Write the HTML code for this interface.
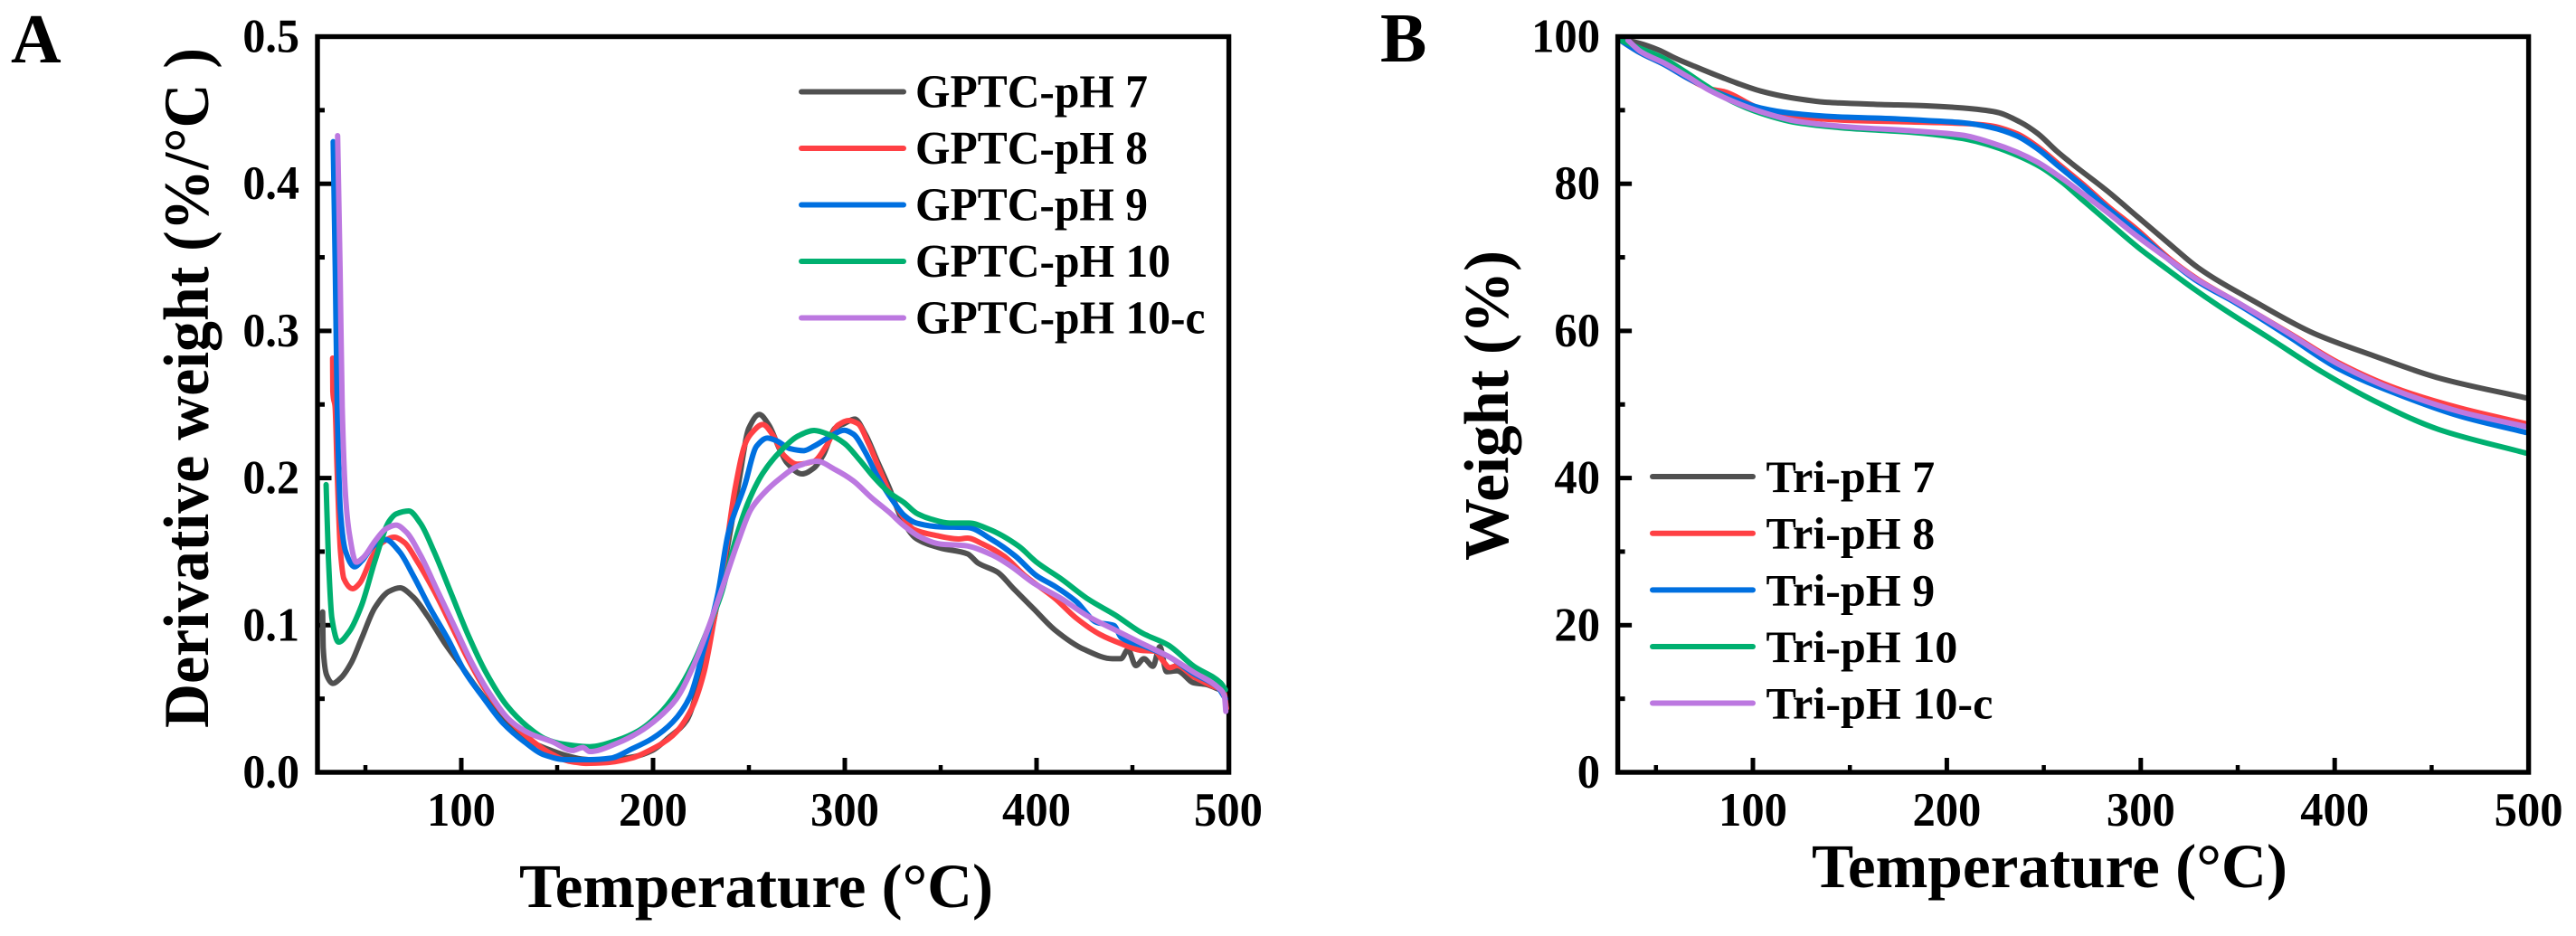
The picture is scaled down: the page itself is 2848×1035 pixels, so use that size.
<!DOCTYPE html>
<html lang="en">
<head>
<meta charset="utf-8">
<title>GPTC and Tri TGA charts</title>
<style>
html,body{margin:0;padding:0;background:#fff;width:2848px;height:1035px;overflow:hidden}
svg{display:block}
text{font-family:"Liberation Serif","DejaVu Serif",serif;font-weight:bold;fill:#000}
</style>
</head>
<body>
<svg id="figure" xmlns="http://www.w3.org/2000/svg" width="2848" height="1035" viewBox="0 0 2848 1035">
  <rect x="0" y="0" width="2848" height="1035" fill="#fff"/>

  <text x="12" y="69" font-size="77">A</text>
  <text x="1526" y="68" font-size="77">B</text>

  <g id="panelA">
    <g id="aFrame"></g>
    <g id="aLines" fill="none" stroke-width="6" stroke-linejoin="round" stroke-linecap="round"></g>
  </g>
  <g id="panelB">
    <g id="bLines" fill="none" stroke-width="6" stroke-linejoin="round" stroke-linecap="round"></g>
    <g id="bFrame"></g>
  </g>

  <text transform="translate(230,805) rotate(-90)" font-size="71" textLength="752" lengthAdjust="spacingAndGlyphs">Derivative weight (%/°C )</text>
  <text x="574" y="1003" font-size="69" textLength="524" lengthAdjust="spacingAndGlyphs">Temperature (°C)</text>
  <text transform="translate(1667,620) rotate(-90)" font-size="70" textLength="343" lengthAdjust="spacingAndGlyphs">Weight (%)</text>
  <text x="2003" y="981" font-size="69" textLength="526" lengthAdjust="spacingAndGlyphs">Temperature (°C)</text>

  <g font-size="52" stroke-width="6" stroke-linecap="round">
    <line x1="886" x2="999" y1="101.5" y2="101.5" stroke="#505050"/>
    <text x="1012" y="118.5" textLength="257" lengthAdjust="spacingAndGlyphs">GPTC-pH 7</text>
    <line x1="886" x2="999" y1="164" y2="164" stroke="#FF4044"/>
    <text x="1012" y="181" textLength="257" lengthAdjust="spacingAndGlyphs">GPTC-pH 8</text>
    <line x1="886" x2="999" y1="226.5" y2="226.5" stroke="#0070E0"/>
    <text x="1012" y="243.5" textLength="257" lengthAdjust="spacingAndGlyphs">GPTC-pH 9</text>
    <line x1="886" x2="999" y1="289" y2="289" stroke="#00B070"/>
    <text x="1012" y="306" textLength="282" lengthAdjust="spacingAndGlyphs">GPTC-pH 10</text>
    <line x1="886" x2="999" y1="351.5" y2="351.5" stroke="#BC78E0"/>
    <text x="1012" y="368.5" textLength="320.5" lengthAdjust="spacingAndGlyphs">GPTC-pH 10-c</text>
  </g>

  <g font-size="50" stroke-width="6" stroke-linecap="round">
    <line x1="1827" x2="1938" y1="527" y2="527" stroke="#505050"/>
    <text x="1952.5" y="544" textLength="186.7" lengthAdjust="spacingAndGlyphs">Tri-pH 7</text>
    <line x1="1827" x2="1938" y1="589.7" y2="589.7" stroke="#FF4044"/>
    <text x="1952.5" y="606.7" textLength="186.7" lengthAdjust="spacingAndGlyphs">Tri-pH 8</text>
    <line x1="1827" x2="1938" y1="652.4" y2="652.4" stroke="#0070E0"/>
    <text x="1952.5" y="669.4" textLength="186.7" lengthAdjust="spacingAndGlyphs">Tri-pH 9</text>
    <line x1="1827" x2="1938" y1="715" y2="715" stroke="#00B070"/>
    <text x="1952.5" y="732" textLength="211.8" lengthAdjust="spacingAndGlyphs">Tri-pH 10</text>
    <line x1="1827" x2="1938" y1="777.5" y2="777.5" stroke="#BC78E0"/>
    <text x="1952.5" y="794.5" textLength="250.8" lengthAdjust="spacingAndGlyphs">Tri-pH 10-c</text>
  </g>
</svg>

<script>
// ---------- tick data ----------
const aXMajor = [100, 200, 300, 400, 500];
const aXMinor = [50, 150, 250, 350, 450];
const aYMajor = [0, 0.1, 0.2, 0.3, 0.4, 0.5];
const aYMinor = [0.05, 0.15, 0.25, 0.35, 0.45];
const aYLabels = ['0.0', '0.1', '0.2', '0.3', '0.4', '0.5'];
const bXMajor = [100, 200, 300, 400, 500];
const bXMinor = [50, 150, 250, 350, 450];
const bYMajor = [0, 20, 40, 60, 80, 100];
const bYMinor = [10, 30, 50, 70, 90];
const bYLabels = ['0', '20', '40', '60', '80', '100'];

// ---------- panel A: derivative weight ----------
const aPh7T = [27.7,28,29.8,33,37,42.5,47.9,55,62.3,68,75,82,91,100,109,118,127,136,145,154,163,172,181.5,190.5,199.5,208.5,217.5,224.8,230,235.6,239.5,244.7,250,255.4,260.4,266,269.8,277.7,284,288.7,295,299.7,305.2,310.7,317,323.3,329.6,337.3,350,364,369.5,379.7,387.6,398.6,409.6,425,439.5,444,447.7,451.8,456,460.7,464.3,467.8,473.3,482,488,494.5,497.7,499];
const aPh7V = [0.109,0.0844,0.066,0.0604,0.0639,0.0742,0.0906,0.112,0.123,0.1254,0.119,0.107,0.0885,0.0721,0.0557,0.0414,0.0291,0.0209,0.0158,0.0117,0.009,0.0082,0.009,0.0107,0.0148,0.024,0.0352,0.064,0.0926,0.1295,0.158,0.197,0.234,0.2432,0.236,0.2196,0.2104,0.2028,0.2069,0.2155,0.234,0.237,0.2401,0.2299,0.2114,0.193,0.1725,0.1588,0.1524,0.1485,0.1422,0.136,0.1254,0.111,0.0967,0.0834,0.0772,0.0772,0.0834,0.0725,0.0772,0.0721,0.0854,0.0684,0.069,0.0608,0.0598,0.0567,0.0547,0.0434];

const aPh8T = [32.9,33,34.2,35.2,37,38.8,43.4,47,53.3,58.7,65,70.4,76.8,85.8,94.8,103.8,112.8,123.7,134.5,145.4,156,165,176,188.7,199.5,210.3,220.2,226.6,232,237.4,242.8,248.2,251,257.2,262.7,268.2,275.3,284,290.3,296.5,302,306.8,312.3,318.6,324.9,331,335.7,346.7,359.3,364,372,383,394,409.6,420.6,433.2,444,455,461.5,466.2,469.4,473.3,482,491.4,497.7,499];
const aPh8V = [0.2815,0.259,0.2483,0.207,0.15,0.1315,0.1248,0.1285,0.1459,0.1561,0.1598,0.1561,0.1438,0.1233,0.0998,0.0762,0.0557,0.0373,0.024,0.0137,0.0076,0.0061,0.0066,0.0096,0.0158,0.025,0.0434,0.068,0.1049,0.1459,0.193,0.2237,0.2299,0.2364,0.2288,0.2155,0.2094,0.2114,0.2217,0.236,0.2391,0.237,0.2237,0.2043,0.1858,0.1725,0.1653,0.1612,0.1586,0.1592,0.1551,0.1469,0.1336,0.1182,0.1049,0.0936,0.0875,0.0828,0.0824,0.0752,0.0711,0.0725,0.0649,0.0588,0.0547,0.0434];

const aPh9T = [33.2,34.3,35.3,37,39.7,44.3,48.2,54.2,60.5,67.7,75,84,93,102,111,121.9,132.7,143.5,154.4,167,177.8,188.7,199.5,210.3,219.3,226.6,233.8,239.2,247.8,254,259.6,264.3,271.4,278.5,284,291.8,299.7,304.4,310.7,317,324.9,331,337.3,350,364,376.6,389,400,409.6,420.6,431.6,440.3,444.2,456.8,469.4,482,494.5,498.5];
const aPh9V = [0.4286,0.3405,0.2483,0.1766,0.15,0.1397,0.1438,0.154,0.1582,0.15,0.1336,0.111,0.0906,0.068,0.0516,0.0332,0.0209,0.0117,0.0086,0.0086,0.0096,0.0158,0.0229,0.0342,0.0516,0.0844,0.1213,0.1623,0.195,0.2217,0.2272,0.2254,0.22,0.2186,0.2217,0.2278,0.2325,0.2299,0.2176,0.2012,0.1848,0.1746,0.1694,0.1668,0.1664,0.1582,0.1469,0.1336,0.1264,0.1162,0.1018,0.0998,0.0916,0.0854,0.0783,0.067,0.0578,0.05];

const aPh10T = [29.5,30.7,32.5,36,41.6,47.9,55,62.3,66,72.6,78.6,85.8,94.8,103.8,112.8,123.7,134.5,143.5,152.6,167,181.5,192.3,203,212,221,228.4,235.6,243,249.4,257.2,266.7,276,284,291.8,299.7,307.6,315.4,323.3,331,337.3,345,354.6,364.8,375,390.7,400,412.8,427,441,455,468.6,482,496,498.5];
const aPh10V = [0.1955,0.1459,0.1049,0.0885,0.0957,0.1131,0.1438,0.1705,0.1756,0.1776,0.1694,0.15,0.1213,0.0926,0.068,0.0455,0.0311,0.0229,0.0193,0.0174,0.0219,0.0281,0.0393,0.0537,0.0742,0.0967,0.1213,0.158,0.1828,0.2032,0.2186,0.2288,0.2323,0.2295,0.2237,0.2125,0.2002,0.19,0.1832,0.1762,0.1721,0.1694,0.1694,0.1653,0.1537,0.1428,0.1315,0.1176,0.1069,0.0947,0.0865,0.0721,0.0608,0.0561];

const aPh10cT = [35.5,36.8,37.9,39.7,41.6,45.2,48.8,55,60.5,66,71.3,78.6,87.6,96.6,105.6,114.7,125.5,136.3,147.2,158,163.4,167,181.5,192.3,203,212,221,228.4,235.6,244.7,251,257.2,266.7,276,285.5,295,304.4,313.8,323.3,331,338.9,350,362.4,376.6,386,398.6,412.8,427,441,453.6,469.4,482,494.5,498,498.7];
const aPh10cV = [0.4327,0.3405,0.2483,0.1868,0.1623,0.1428,0.1459,0.1571,0.1653,0.168,0.1633,0.1479,0.1233,0.0988,0.0742,0.0537,0.0352,0.026,0.0209,0.0148,0.0168,0.0141,0.0199,0.027,0.0373,0.0496,0.0721,0.0967,0.1233,0.158,0.1786,0.1889,0.2002,0.2084,0.2114,0.2057,0.1981,0.1868,0.1766,0.1674,0.1602,0.1551,0.1541,0.1479,0.1407,0.1285,0.1182,0.1059,0.0967,0.0885,0.0783,0.068,0.0578,0.0516,0.0414];

// ---------- panel B: weight ----------
const bPh7T = [31,41.9,51.2,60.5,71.4,80.7,91.6,104,119.6,138.2,163,189.5,208.2,225.3,237.7,247,256.4,264.2,282.8,298.4,314,329.5,360,389,420.3,453.7,498.5];
const bPh7V = [99.7,99.06,98.2,97,95.8,94.8,93.7,92.6,91.7,91.07,90.8,90.6,90.3,89.75,88.4,86.8,84.5,82.8,79,75.5,72,68.6,63.8,59.7,56.6,53.6,50.9];

const bPh8T = [31,41.9,54.3,66.7,77.6,85.4,104,127,150.7,181.8,208.2,222.2,236.2,247,258,270.4,282.8,298.4,314,329.5,349,376,402.5,431.5,464.8,498.5];
const bPh8V = [99.6,97.8,96.2,94.3,92.9,92.5,90.2,89,88.6,88.4,88.2,87.9,86.8,85,82.6,79.9,77,73.7,70,67,64,59.8,55.6,52.2,49.5,47.4];

const bPh9T = [31,41.9,54.3,66.7,77.6,88.5,104,119.6,142.9,166.2,189.5,208.2,222.2,236.2,247,258,270.4,282.8,298.4,314,329.5,349,376,402.5,431.5,464.8,498.5];
const bPh9V = [99.6,97.8,96.2,94.3,92.9,91.7,90.3,89.6,89.1,88.9,88.6,88.3,87.7,86.5,84.7,82.3,79.6,76.7,73.4,69.8,66.7,63.8,59.3,54.8,51.5,48.4,46.2];

const bPh10T = [31,41.9,54.3,65.2,76,88.5,104,122.7,150.7,181.8,208.2,223.8,237.7,248.6,259.5,270.4,282.8,298.4,314,326.4,340.2,367,393.6,420.3,453.7,498.5];
const bPh10V = [99.6,98.4,97,95.2,93.3,91.3,89.6,88.3,87.5,87,86.15,85.1,83.7,82.25,80.2,77.7,74.9,71.4,68.3,65.9,63.4,58.9,54.4,50.5,46.6,43.4];

const bPh10cT = [35.6,41.9,54.3,66.7,77.6,91.6,104,122.7,150.7,181.8,208.2,223.8,236.2,247,258,270.4,282.8,298.4,314,329.5,349,376,402.5,431.5,464.8,498.5];
const bPh10cV = [99.5,98,96.4,94.5,92.7,91,89.8,88.5,87.7,87.2,86.6,85.5,84.3,82.9,81,78.6,76.1,72.8,69.8,66.9,64,59.7,55.4,51.9,49,47];

// ---------- axis functions ----------
function aX(t) { return 510 + (t - 100) * 2.12; }
function aY(v) { return 854 - v * 1627; }
function bX(t) { return 1938 + (t - 100) * 2.144; }
function bY(w) { return 854 - w * 8.135; }

const NS = 'http://www.w3.org/2000/svg';

// monotone cubic path, so steep spikes do not overshoot
function monotonePath(xs, ys) {
  const n = xs.length;
  const dx = [], slope = [], m = [];
  for (let i = 0; i < n - 1; i++) {
    dx.push(xs[i + 1] - xs[i]);
    slope.push((ys[i + 1] - ys[i]) / dx[i]);
  }
  m.push(slope[0]);
  for (let i = 1; i < n - 1; i++) {
    if (slope[i - 1] * slope[i] <= 0) { m.push(0); }
    else {
      const w1 = 2 * dx[i] + dx[i - 1], w2 = dx[i] + 2 * dx[i - 1];
      m.push((w1 + w2) / (w1 / slope[i - 1] + w2 / slope[i]));
    }
  }
  m.push(slope[n - 2]);
  let d = 'M' + xs[0].toFixed(2) + ' ' + ys[0].toFixed(2);
  for (let i = 0; i < n - 1; i++) {
    const h = dx[i] / 3;
    d += 'C' + (xs[i] + h).toFixed(2) + ' ' + (ys[i] + m[i] * h).toFixed(2) + ' ' +
         (xs[i + 1] - h).toFixed(2) + ' ' + (ys[i + 1] - m[i + 1] * h).toFixed(2) + ' ' +
         xs[i + 1].toFixed(2) + ' ' + ys[i + 1].toFixed(2);
  }
  return d;
}

function drawSeries(parent, name, temps, vals, xf, yf, color) {
  const p = document.createElementNS(NS, 'path');
  
  
  p.setAttribute('d', monotonePath(temps.map(xf), vals.map(yf)));
  p.setAttribute('stroke', color);
  parent.appendChild(p);
}

function drawTick(parent, x1, y1, x2, y2, w) {
  const l = document.createElementNS(NS, 'line');
  
  
  l.setAttribute('x1', x1);
  l.setAttribute('y1', y1);
  l.setAttribute('x2', x2);
  l.setAttribute('y2', y2);
  l.setAttribute('stroke', '#000');
  l.setAttribute('stroke-width', w);
  parent.appendChild(l);
}

function labelWidth(s) {
  const digits = s.replace('.', '').length;
  return digits * 25.3 + (s.indexOf('.') >= 0 ? 12 : 0);
}

function drawLabel(parent, s, x, y, anchor) {
  const t = document.createElementNS(NS, 'text');
  
  
  t.setAttribute('x', x);
  t.setAttribute('y', y);
  t.setAttribute('font-size', '53');
  t.setAttribute('text-anchor', anchor);
  t.setAttribute('textLength', labelWidth(s));
  t.setAttribute('lengthAdjust', 'spacingAndGlyphs');
  t.textContent = s;
  parent.appendChild(t);
}

function drawFrame(parent, left, right, xf, yf, xMajor, xMinor, yMajor, yMinor, yLabels, labelRight) {
  const top = yf(yMajor[yMajor.length - 1]), bottom = yf(yMajor[0]);
  const r = document.createElementNS(NS, 'rect');
  
  
  r.setAttribute('x', left);
  r.setAttribute('y', top);
  r.setAttribute('width', right - left);
  r.setAttribute('height', bottom - top);
  r.setAttribute('fill', 'none');
  r.setAttribute('stroke', '#000');
  r.setAttribute('stroke-width', '5.4');
  parent.appendChild(r);
  xMajor.forEach(function (t) {
    if (xf(t) < right - 3) drawTick(parent, xf(t), bottom, xf(t), bottom - 16, 5);
    drawLabel(parent, String(t), xf(t), 913, 'middle');
  });
  xMinor.forEach(function (t) { drawTick(parent, xf(t), bottom, xf(t), bottom - 8, 4.5); });
  yMajor.forEach(function (v, i) {
    if (i > 0 && i < yMajor.length - 1) drawTick(parent, left, yf(v), left + 15.5, yf(v), 5);
    drawLabel(parent, yLabels[i], labelRight, yf(v) + 17, 'end');
  });
  yMinor.forEach(function (v) { drawTick(parent, left, yf(v), left + 8, yf(v), 5); });
}

drawFrame(document.getElementById('aFrame'), 351, 1358.6, aX, aY, aXMajor, aXMinor, aYMajor, aYMinor, aYLabels, 331);
drawFrame(document.getElementById('bFrame'), 1788.6, 2795.6, bX, bY, bXMajor, bXMinor, bYMajor, bYMinor, bYLabels, 1769);

const aLines = document.getElementById('aLines');
drawSeries(aLines, 'series-gptc-ph-7', aPh7T, aPh7V, aX, aY, '#505050');
drawSeries(aLines, 'series-gptc-ph-8', aPh8T, aPh8V, aX, aY, '#FF4044');
drawSeries(aLines, 'series-gptc-ph-9', aPh9T, aPh9V, aX, aY, '#0070E0');
drawSeries(aLines, 'series-gptc-ph-10', aPh10T, aPh10V, aX, aY, '#00B070');
drawSeries(aLines, 'series-gptc-ph-10-c', aPh10cT, aPh10cV, aX, aY, '#BC78E0');

const bLines = document.getElementById('bLines');
drawSeries(bLines, 'series-tri-ph-7', bPh7T, bPh7V, bX, bY, '#505050');
drawSeries(bLines, 'series-tri-ph-8', bPh8T, bPh8V, bX, bY, '#FF4044');
drawSeries(bLines, 'series-tri-ph-9', bPh9T, bPh9V, bX, bY, '#0070E0');
drawSeries(bLines, 'series-tri-ph-10', bPh10T, bPh10V, bX, bY, '#00B070');
drawSeries(bLines, 'series-tri-ph-10-c', bPh10cT, bPh10cV, bX, bY, '#BC78E0');
</script>
</body>
</html>
